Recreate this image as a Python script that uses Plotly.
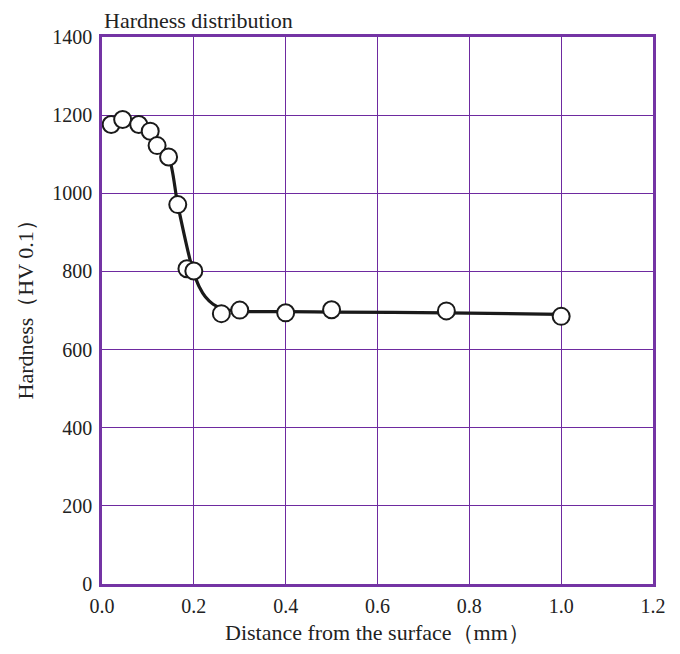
import plotly.graph_objects as go

# Measured hardness points
depth_mm = [0.02, 0.045, 0.08, 0.105, 0.12, 0.145, 0.165, 0.185, 0.2, 0.26, 0.3, 0.4, 0.5, 0.75, 1.0]
hardness = [1176, 1189, 1176, 1159, 1122, 1093, 971, 807, 801, 692, 701, 694, 702, 699, 685]

# Hand-drawn trend curve
curve_x = [0.02, 0.045, 0.08, 0.105, 0.12, 0.145, 0.165, 0.195, 0.203, 0.212, 0.225, 0.242, 0.264, 0.3, 0.4, 0.5, 0.75, 1.0]
curve_y = [1176, 1189, 1176, 1159, 1122, 1093, 971, 815, 786, 760, 735, 716, 704, 698, 697, 696, 694, 690]

x_ticks = [0.0, 0.2, 0.4, 0.6, 0.8, 1.0, 1.2]
x_tick_text = ["0.0", "0.2", "0.4", "0.6", "0.8", "1.0", "1.2"]
y_ticks = [0, 200, 400, 600, 800, 1000, 1200, 1400]

PURPLE = "#7434a4"
GRID = "#6e2aa0"
FONT = "Liberation Serif"
TXT = "#222222"

fig = go.Figure()
fig.add_trace(go.Scatter(
    x=curve_x, y=curve_y, mode="lines",
    line=dict(color="#1a1a1a", width=3.2, shape="spline", smoothing=0.8),
    hoverinfo="skip", showlegend=False,
))
fig.add_trace(go.Scatter(
    x=depth_mm, y=hardness, mode="markers",
    marker=dict(size=17, color="white", line=dict(color="#1a1a1a", width=2)),
    showlegend=False,
))

fig.update_layout(
    width=664, height=638,
    margin=dict(l=94, r=19, t=29, b=62),
    paper_bgcolor="white", plot_bgcolor="white",
    font=dict(family=FONT, size=20, color=TXT),
    showlegend=False,
    annotations=[
        dict(text="Hardness distribution", xref="paper", yref="paper",
             x=0, y=1, xanchor="left", yanchor="bottom", yshift=2, showarrow=False,
             font=dict(family=FONT, size=22, color=TXT)),
        dict(text="Distance from the surface（mm）", xref="paper", yref="paper",
             x=0.5, y=0, xanchor="center", yanchor="middle", yshift=-48, showarrow=False,
             font=dict(family=FONT, size=22, color=TXT)),
        dict(text="Hardness（HV 0.1）", xref="paper", yref="paper", textangle=-90,
             x=0, y=0.5, xanchor="center", yanchor="middle", xshift=-77, yshift=6,
             showarrow=False, font=dict(family=FONT, size=22, color=TXT)),
    ],
)
fig.update_xaxes(
    range=[0, 1.2], tickvals=x_ticks, ticktext=x_tick_text,
    showgrid=True, gridcolor=GRID, gridwidth=1,
    showline=True, linecolor=PURPLE, linewidth=2.5, mirror=True,
    zeroline=False, ticks="", ticklabelstandoff=2, automargin=False,
)
fig.update_yaxes(
    range=[0, 1400], tickvals=y_ticks,
    showgrid=True, gridcolor=GRID, gridwidth=1,
    showline=True, linecolor=PURPLE, linewidth=2.5, mirror=True,
    zeroline=False, ticks="", ticklabelstandoff=3, automargin=False,
)

fig.write_html("out.html")
